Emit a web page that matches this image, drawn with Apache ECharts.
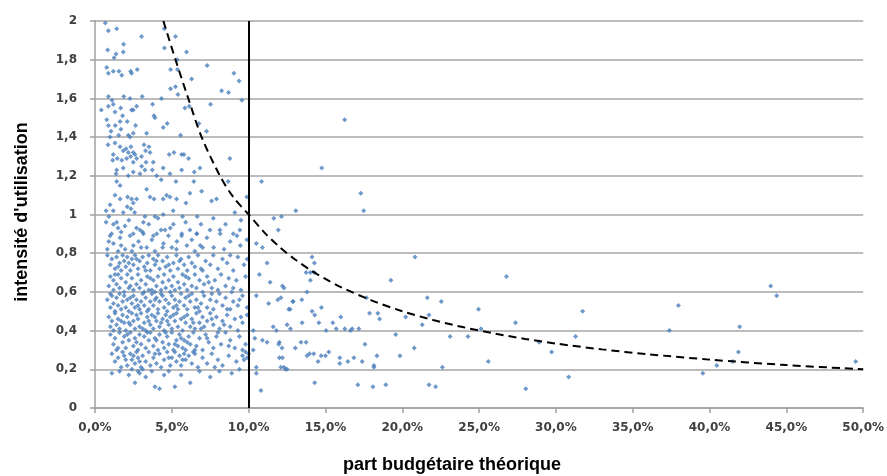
<!DOCTYPE html>
<html>
<head>
<meta charset="utf-8">
<script src="https://cdn.jsdelivr.net/npm/echarts@6/dist/echarts.min.js"></script>
<style>
  html, body { margin: 0; padding: 0; background: #fff; }
  #chart { width: 887px; height: 476px; }
</style>
</head>
<body>
<div id="chart"></div>
<script>
// points: [part budgétaire (%), intensité]
var upperPoints = [
  [0.67,1.99],[0.87,1.95],[1.41,1.96],[0.82,1.85],[1.37,1.83],[1.84,1.84],[1.86,1.88],[3.03,1.92],[4.51,1.96],[5.24,1.92],
  [4.52,1.86],[5.96,1.84],[5.35,1.80],[1.24,1.81],[0.76,1.76],[0.87,1.73],[1.19,1.74],[1.56,1.74],[1.74,1.72],[2.32,1.74],
  [2.38,1.73],[2.75,1.75],[4.92,1.75],[5.37,1.75],[6.29,1.70],[7.30,1.77],[9.04,1.73],[9.38,1.69],[8.24,1.64],[8.69,1.63],
  [9.56,1.59],[4.92,1.65],[5.24,1.66],[5.40,1.62],[6.13,1.56],[5.85,1.55],[7.52,1.57],[4.33,1.60],[3.75,1.57],[3.07,1.61],
  [1.87,1.61],[2.28,1.60],[0.87,1.61],[1.11,1.59],[0.41,1.54],[0.87,1.56],[1.19,1.57],[1.67,1.55],[1.30,1.53],[1.80,1.51],
  [2.38,1.54],[2.71,1.56],[2.49,1.54],[0.76,1.49],[0.87,1.46],[1.32,1.46],[1.63,1.48],[1.69,1.44],[2.10,1.48],[2.64,1.46],
  [3.84,1.51],[3.90,1.50],[4.44,1.45],[4.70,1.47],[5.57,1.41],[6.76,1.47],[7.26,1.43],[1.04,1.43],[0.98,1.40],[1.54,1.41],
  [2.17,1.41],[2.28,1.40],[2.49,1.42],[3.36,1.42],[0.85,1.36],[1.30,1.37],[1.63,1.35],[1.84,1.33],[2.02,1.34],[2.17,1.32],
  [2.34,1.35],[2.49,1.32],[2.06,1.29],[2.32,1.30],[2.60,1.31],[1.19,1.31],[1.15,1.28],[1.45,1.29],[1.74,1.28],[2.71,1.29],
  [3.03,1.30],[3.19,1.36],[3.51,1.35],[3.29,1.33],[3.58,1.32],[2.49,1.27],[3.32,1.27],[3.79,1.27],[4.83,1.31],[5.14,1.32],
  [5.64,1.31],[5.79,1.31],[6.09,1.29],[8.78,1.29],[1.41,1.23],[1.37,1.21],[1.84,1.24],[2.17,1.20],[2.49,1.22],[2.93,1.21],
  [3.25,1.23],[3.04,1.25],[3.73,1.23],[4.01,1.20],[4.31,1.18],[4.44,1.24],[4.88,1.21],[5.64,1.23],[6.46,1.22],[6.83,1.24],
  [6.43,1.17],[5.27,1.17],[8.67,1.17],[1.41,1.17],[1.63,1.15],[1.30,1.10],[1.63,1.08],[2.12,1.09],[2.38,1.08],[2.49,1.06],
  [2.71,1.08],[3.36,1.13],[3.58,1.09],[3.84,1.08],[4.44,1.08],[4.66,1.10],[4.88,1.09],[5.31,1.08],[5.92,1.06],[6.18,1.11],
  [6.94,1.12],[7.59,1.07],[7.91,1.08],[9.88,1.09],[10.84,1.17],[13.07,1.02],[0.72,1.02],[0.98,1.05],[1.19,1.02],[1.84,1.01],
  [2.10,1.04],[2.34,1.03],[2.58,1.01],[3.25,0.99],[3.90,0.99],[4.44,1.00],[5.09,1.02],[5.70,0.99],[6.65,0.99],[9.10,1.01],
  [11.64,0.98],[12.14,0.99],[16.25,1.49],[14.76,1.24],[17.30,1.11],[17.49,1.02]
];

var densePoints = [
  // 0,9 - 1
  [1.08,0.90],[1.41,0.96],[1.95,0.94],[2.49,0.90],[2.93,0.92],[3.15,0.96],[3.80,0.89],[4.56,0.92],[5.10,0.95],[5.64,0.89],
  [6.18,0.92],[6.62,0.90],[7.48,0.92],[8.13,0.92],[9.00,0.90],[9.43,0.92],[0.72,0.96],[1.2,0.95],[1.7,0.91],[2.2,0.97],
  [2.7,0.93],[3.5,0.95],[4.1,0.98],[4.9,0.93],[5.9,0.96],[6.9,0.95],[7.7,0.98],[8.5,0.95],[9.5,0.97],[0.9,0.99],
  [1.5,0.93],[3.1,0.91],[4.3,0.92],
  // 0,8 - 0,9
  [0.98,0.89],[1.2,0.85],[1.63,0.88],[1.96,0.82],[2.28,0.89],[2.5,0.84],[2.83,0.86],[3.15,0.90],[3.37,0.83],[3.7,0.87],
  [4.02,0.90],[4.46,0.85],[4.78,0.89],[5.0,0.83],[5.33,0.86],[5.65,0.90],[5.98,0.84],[6.3,0.87],[6.63,0.90],[6.85,0.84],
  [7.28,0.88],[7.72,0.83],[8.15,0.90],[8.8,0.86],[9.24,0.89],[9.46,0.84],[9.89,0.87],[0.8,0.82],[1.5,0.81],[0.9,0.86],
  [1.7,0.84],[2.4,0.81],[3.0,0.83],[3.9,0.81],[4.4,0.83],[5.3,0.82],[6.5,0.81],[7.0,0.83],[8.4,0.82],
  // 0,7 - 0,8
  [0.8,0.79],[1.0,0.74],[1.1,0.77],[1.3,0.72],[1.4,0.78],[1.6,0.75],[1.7,0.71],[1.8,0.79],[1.9,0.76],[2.0,0.73],
  [2.1,0.78],[2.2,0.75],[2.3,0.71],[2.4,0.77],[2.5,0.74],[2.6,0.79],[2.8,0.72],[2.9,0.76],[3.1,0.78],[3.2,0.73],
  [3.4,0.75],[3.5,0.79],[3.6,0.71],[3.8,0.77],[3.9,0.74],[4.1,0.79],[4.2,0.72],[4.4,0.76],[4.6,0.73],[4.7,0.78],
  [4.9,0.71],[5.1,0.75],[5.3,0.79],[5.4,0.72],[5.6,0.77],[5.8,0.74],[6.0,0.71],[6.1,0.78],[6.3,0.75],[6.5,0.73],
  [6.7,0.79],[6.9,0.72],[7.2,0.76],[7.5,0.74],[7.7,0.79],[8.0,0.72],[8.3,0.77],[8.6,0.75],[9.0,0.71],[9.3,0.78],
  [9.7,0.74],[1.5,0.73],[2.7,0.77],[3.3,0.71],[4.0,0.76],[4.8,0.74],[5.5,0.76],[7.0,0.71],[8.8,0.79],[9.9,0.77],
  // 0,6 - 0,7
  [0.9,0.63],[1.0,0.68],[1.2,0.61],[1.2,0.66],[1.4,0.64],[1.5,0.69],[1.6,0.62],[1.7,0.67],[1.9,0.60],[2.0,0.65],
  [2.1,0.69],[2.3,0.63],[2.4,0.67],[2.5,0.61],[2.7,0.64],[2.8,0.69],[2.9,0.62],[3.0,0.66],[3.2,0.60],[3.3,0.64],
  [3.4,0.68],[3.5,0.61],[3.7,0.61],[3.8,0.66],[3.9,0.60],[4.0,0.63],[4.1,0.68],[4.3,0.61],[4.4,0.65],[4.5,0.69],
  [4.6,0.62],[4.8,0.66],[5.0,0.63],[5.1,0.68],[5.2,0.61],[5.4,0.65],[5.5,0.62],[5.7,0.69],[5.8,0.64],[6.0,0.61],
  [6.1,0.67],[6.3,0.63],[6.5,0.69],[6.6,0.62],[6.8,0.66],[7.0,0.60],[7.1,0.64],[7.3,0.68],[7.6,0.62],[7.8,0.66],
  [8.0,0.61],[8.2,0.69],[8.5,0.63],[8.7,0.67],[9.0,0.62],[9.2,0.66],[9.5,0.61],[9.8,0.68],[1.3,0.69],[2.2,0.62],
  [3.6,0.67],[4.9,0.60],[5.9,0.68],[7.4,0.65],[8.9,0.60],
  // 0,5 - 0,6
  [0.8,0.56],[1.0,0.52],[1.1,0.58],[1.2,0.54],[1.3,0.50],[1.4,0.57],[1.5,0.53],[1.6,0.59],[1.7,0.51],[1.8,0.55],
  [1.9,0.58],[2.0,0.52],[2.1,0.56],[2.2,0.50],[2.4,0.54],[2.5,0.58],[2.6,0.52],[2.7,0.56],[2.9,0.51],[3.0,0.55],
  [3.1,0.59],[3.2,0.53],[3.3,0.57],[3.5,0.51],[3.6,0.55],[3.7,0.59],[3.8,0.53],[4.0,0.57],[4.1,0.51],[4.2,0.55],
  [4.3,0.59],[4.5,0.52],[4.6,0.56],[4.7,0.50],[4.8,0.54],[5.0,0.58],[5.1,0.52],[5.2,0.56],[5.4,0.51],[5.5,0.55],
  [5.6,0.59],[5.8,0.53],[5.9,0.57],[6.0,0.51],[6.2,0.55],[6.3,0.59],[6.5,0.52],[6.6,0.56],[6.8,0.50],[6.9,0.54],
  [7.1,0.58],[7.3,0.52],[7.5,0.56],[7.7,0.51],[7.9,0.55],[8.1,0.59],[8.3,0.53],[8.5,0.57],[8.8,0.51],[9.0,0.55],
  [9.3,0.53],[9.6,0.58],[9.9,0.52],[1.0,0.59],[2.3,0.57],[2.8,0.53],[3.4,0.50],[3.9,0.56],[4.4,0.58],[5.3,0.53],
  [6.1,0.58],[6.7,0.52],[7.6,0.59],[8.6,0.51],[9.4,0.56],
  // 0,4 - 0,5
  [0.9,0.47],[1.0,0.42],[1.1,0.45],[1.3,0.49],[1.4,0.43],[1.5,0.46],[1.6,0.41],[1.8,0.48],[1.9,0.44],[2.0,0.40],
  [2.1,0.47],[2.3,0.43],[2.4,0.49],[2.5,0.45],[2.6,0.41],[2.8,0.46],[2.9,0.42],[3.0,0.49],[3.2,0.44],[3.3,0.40],
  [3.4,0.47],[3.6,0.43],[3.7,0.48],[3.8,0.41],[4.0,0.45],[4.1,0.49],[4.2,0.42],[4.4,0.46],[4.5,0.40],[4.6,0.48],
  [4.8,0.43],[4.9,0.47],[5.0,0.41],[5.2,0.45],[5.3,0.49],[5.4,0.42],[5.6,0.46],[5.7,0.40],[5.9,0.44],[6.0,0.48],
  [6.2,0.42],[6.3,0.46],[6.5,0.41],[6.6,0.49],[6.8,0.44],[7.0,0.47],[7.1,0.42],[7.3,0.45],[7.5,0.49],[7.7,0.43],
  [7.9,0.47],[8.1,0.41],[8.3,0.45],[8.6,0.48],[8.8,0.42],[9.1,0.46],[9.3,0.40],[9.6,0.44],[9.9,0.48],[1.2,0.40],
  [1.7,0.45],[2.2,0.44],[2.7,0.48],[3.1,0.41],[3.5,0.45],[3.9,0.47],[4.3,0.44],[4.7,0.45],[5.1,0.48],[5.8,0.47],
  [6.4,0.44],[6.9,0.41],[7.6,0.46],[8.4,0.43],[9.5,0.47],
  // 0,3 - 0,4
  [1.0,0.38],[1.2,0.33],[1.3,0.36],[1.5,0.31],[1.6,0.39],[1.8,0.34],[1.9,0.37],[2.0,0.31],[2.2,0.35],[2.3,0.39],
  [2.5,0.32],[2.6,0.36],[2.8,0.30],[2.9,0.38],[3.0,0.33],[3.2,0.37],[3.3,0.31],[3.5,0.35],[3.6,0.39],[3.8,0.32],
  [3.9,0.36],[4.1,0.30],[4.2,0.38],[4.4,0.34],[4.5,0.31],[4.7,0.37],[4.8,0.33],[5.0,0.39],[5.1,0.30],[5.3,0.35],
  [5.4,0.32],[5.5,0.38],[5.7,0.31],[5.8,0.35],[5.9,0.30],[6.1,0.37],[6.2,0.33],[6.4,0.39],[6.6,0.32],[6.8,0.36],
  [7.0,0.30],[7.2,0.38],[7.4,0.34],[7.7,0.31],[7.9,0.37],[8.2,0.33],[8.5,0.39],[8.8,0.35],[9.1,0.31],[9.4,0.37],
  [9.8,0.33],[1.4,0.30],[2.1,0.38],[2.7,0.34],[3.4,0.39],[4.0,0.35],[4.6,0.39],[5.2,0.33],[5.6,0.36],[6.0,0.34],
  [6.5,0.30],[7.3,0.36],[8.0,0.39],[8.7,0.32],[9.6,0.30],
  // 0,2 - 0,3
  [1.1,0.28],[1.3,0.24],[1.5,0.26],[1.7,0.21],[1.8,0.29],[2.0,0.25],[2.1,0.22],[2.3,0.28],[2.4,0.25],[2.5,0.27],
  [2.6,0.23],[2.7,0.29],[2.8,0.26],[3.0,0.21],[3.1,0.27],[3.3,0.24],[3.5,0.29],[3.6,0.22],[3.8,0.26],[4.0,0.23],
  [4.2,0.28],[4.3,0.21],[4.5,0.25],[4.7,0.29],[4.9,0.22],[5.0,0.26],[5.2,0.29],[5.3,0.24],[5.5,0.27],[5.6,0.22],
  [5.8,0.28],[5.9,0.25],[6.1,0.27],[6.3,0.23],[6.5,0.28],[6.7,0.21],[7.0,0.26],[7.3,0.23],[7.6,0.28],[8.0,0.25],
  [8.3,0.22],[8.7,0.27],[9.2,0.24],[9.6,0.27],[9.8,0.29],[9.9,0.26],[10.0,0.28],[9.7,0.25],[1.9,0.27],[2.9,0.24],
  [3.9,0.28],[4.8,0.26],[5.7,0.25],[6.4,0.29],[7.8,0.21],
  // 0,1 - 0,2
  [1.1,0.18],[1.6,0.19],[2.2,0.17],[2.6,0.13],[2.8,0.19],[2.9,0.18],[3.1,0.20],[3.3,0.16],[3.7,0.19],[3.9,0.11],
  [4.2,0.10],[4.5,0.17],[5.2,0.11],[5.6,0.17],[6.2,0.13],[6.8,0.19],[7.5,0.16],[8.1,0.19],[8.9,0.18],[9.4,0.20],
  [4.8,0.19],[2.4,0.20]
];

var rightPoints = [
  [10.5,0.85],[10.9,0.83],[11.2,0.75],[10.7,0.69],[11.4,0.65],[10.5,0.58],[11.3,0.54],[12.3,0.62],[11.9,0.56],[12.7,0.51],
  [12.9,0.55],[10.3,0.40],[10.4,0.36],[10.9,0.35],[11.2,0.34],[11.6,0.42],[11.8,0.40],[12.0,0.34],[12.2,0.26],[12.3,0.21],
  [12.5,0.20],[10.5,0.21],[10.5,0.18],[10.8,0.09],[10.3,0.30],[11.93,0.92],
  [20.83,0.78],[14.13,0.78],[14.28,0.75],[13.74,0.70],[14.02,0.70],[14.28,0.70],[14.02,0.66],[19.26,0.66],[26.78,0.68],[12.2,0.63],
  [13.8,0.60],[12.1,0.57],[21.63,0.57],[22.54,0.55],[12.87,0.55],[13.46,0.56],[14.74,0.52],[12.61,0.51],[14.13,0.50],[14.3,0.48],
  [17.67,0.57],[17.87,0.49],[18.41,0.49],[18.52,0.46],[16.0,0.47],[20.22,0.47],[21.74,0.48],[24.96,0.51],[31.74,0.50],[27.37,0.44],
  [25.13,0.41],[21.3,0.43],[12.5,0.43],[12.72,0.41],[13.48,0.44],[14.57,0.44],[15.48,0.44],[15.7,0.41],[16.26,0.41],[16.63,0.40],
  [16.74,0.41],[17.17,0.41],[15.04,0.40],[19.57,0.38],[23.11,0.37],[24.28,0.37],[31.28,0.37],[11.96,0.33],[12.17,0.31],[13.04,0.31],
  [13.41,0.34],[13.74,0.34],[13.8,0.27],[13.96,0.28],[14.24,0.28],[14.52,0.24],[14.72,0.27],[15.0,0.27],[15.22,0.29],[15.93,0.26],
  [15.93,0.23],[16.46,0.24],[16.85,0.26],[17.39,0.24],[17.57,0.33],[18.35,0.27],[18.15,0.22],[18.15,0.21],[19.85,0.27],[20.78,0.31],
  [22.61,0.21],[25.6,0.24],[28.91,0.34],[29.72,0.29],[30.83,0.16],[28.04,0.10],[14.3,0.13],[17.11,0.12],[18.09,0.11],[18.93,0.12],
  [21.74,0.12],[22.17,0.11],[12.0,0.26],[12.1,0.21],[12.4,0.20],
  [37.39,0.40],[37.97,0.53],[39.56,0.18],[40.47,0.22],[41.51,0.24],[41.88,0.29],[41.96,0.42],[43.98,0.63],[44.37,0.58],[49.51,0.24]
];

// courbe en pointillés
var curveX = [4.45, 5.24, 6.07, 6.94, 8.13, 9, 10, 11, 12, 13, 14, 15, 16, 18, 20, 22, 24, 26, 28, 30, 33, 36, 40, 45, 50];
var curveY = [2, 1.8, 1.6, 1.4, 1.2, 1.09, 1, 0.909, 0.833, 0.769, 0.714, 0.667, 0.625, 0.556, 0.5, 0.455, 0.417, 0.385, 0.357, 0.333, 0.303, 0.278, 0.25, 0.222, 0.2];

var seuil = 10;

var allPoints = upperPoints.concat(densePoints, rightPoints);
var curve = curveX.map(function (x, i) { return [x, curveY[i]]; });

var chart = echarts.init(document.getElementById('chart'));
var labelFont = { fontFamily: 'DejaVu Sans', fontWeight: 'bold', fontSize: 12, color: '#404040' };

var option = {
    animation: false,
    backgroundColor: '#fff',
    grid: { left: 95, right: 23, top: 21, bottom: 68 },
    xAxis: {
        type: 'value',
        min: 0,
        max: 50,
        interval: 5,
        axisLine: { show: true, lineStyle: { color: '#a0a0a0', width: 1.5 } },
        axisTick: { show: true, length: 5, lineStyle: { color: '#a0a0a0', width: 1.5 } },
        splitLine: { show: false },
        axisLabel: Object.assign({
            margin: 14,
            formatter: function (v) { return v.toFixed(1).replace('.', ',') + '%'; }
        }, labelFont)
    },
    yAxis: {
        type: 'value',
        min: 0,
        max: 2,
        interval: 0.2,
        axisLine: { show: true, lineStyle: { color: '#a0a0a0', width: 1.5 } },
        axisTick: { show: true, length: 5, lineStyle: { color: '#a0a0a0', width: 1.5 } },
        splitLine: { show: true, lineStyle: { color: '#a6a6a6', width: 1.5 } },
        axisLabel: Object.assign({
            margin: 18,
            formatter: function (v) { return String(Math.round(v * 10) / 10).replace('.', ','); }
        }, labelFont)
    },
    graphic: [
        {
            type: 'text',
            x: 22,
            y: 212,
            rotation: Math.PI / 2,
            style: {
                text: 'intensité d\'utilisation',
                fontFamily: 'Liberation Sans',
                fontWeight: 'bold',
                fontSize: 18,
                fill: '#000',
                align: 'center',
                verticalAlign: 'middle'
            }
        },
        {
            type: 'text',
            x: 452,
            y: 465,
            style: {
                text: 'part budgétaire théorique',
                fontFamily: 'Liberation Sans',
                fontWeight: 'bold',
                fontSize: 18,
                fill: '#000',
                align: 'center',
                verticalAlign: 'middle'
            }
        }
    ],
    series: [
        {
            name: 'points',
            type: 'scatter',
            symbol: 'diamond',
            symbolSize: 5,
            itemStyle: { color: '#4a7ebb' },
            data: allPoints,
            z: 2
        },
        {
            name: 'courbe',
            type: 'line',
            data: curve,
            smooth: 0.3,
            symbol: 'none',
            lineStyle: { color: '#000', width: 2, type: [8, 5] },
            z: 3,
            markLine: {
                silent: true,
                symbol: 'none',
                label: { show: false },
                lineStyle: { color: '#000', width: 2, type: 'solid' },
                data: [{ xAxis: seuil }]
            }
        }
    ]
};

chart.setOption(option);
window.addEventListener('resize', chart.resize);
</script>
</body>
</html>
